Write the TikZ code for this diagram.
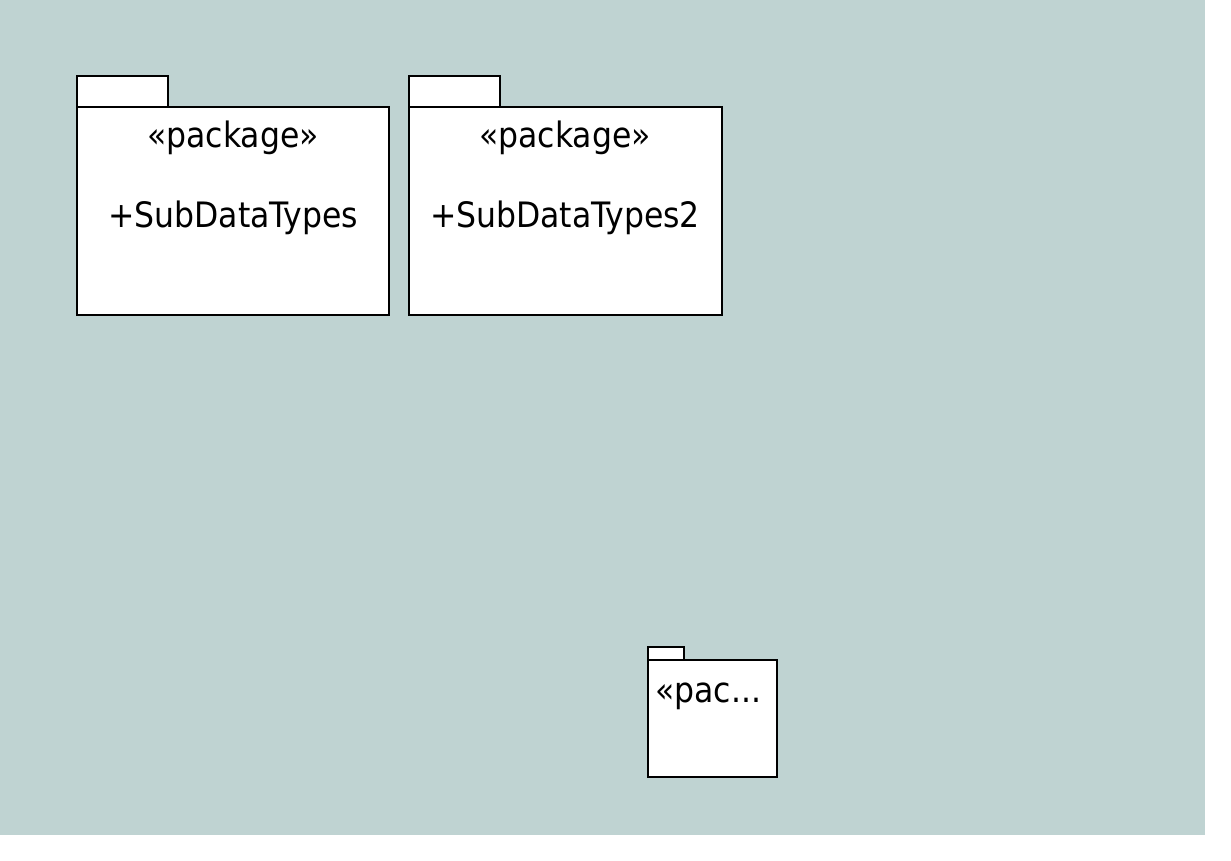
\documentclass[tikz,border=0pt]{standalone}
\usepackage{fontspec}
\setmainfont{DejaVu Sans Condensed}
\usepackage{tikz}
\usetikzlibrary{positioning}

\definecolor{canvas}{RGB}{191,211,210}

\begin{document}
\begin{tikzpicture}[x=1pt,y=-1pt,
	pkg body/.style={draw,fill=white,line width=1.3pt,inner sep=0pt,outer sep=0pt,anchor=north west},
	pkg tab/.style={draw,fill=white,line width=1.3pt,inner sep=0pt,outer sep=0pt,anchor=south west},
	pkg text/.style={inner sep=0pt,font=\fontsize{35}{38}\selectfont}]
	
	\useasboundingbox (0,0) rectangle (1231,861);
	\fill[canvas] (0,0) rectangle (1205,835);
	
	% first package
	\node[pkg body,minimum width=312pt,minimum height=208pt] (sub) at (77,107) {};
	\node[pkg tab,minimum width=91pt,minimum height=31pt] (subtab) at (sub.north west) {};
	\node[pkg text,anchor=base] (substereo) at (233,148) {«package»};
	\node[pkg text,anchor=base] (subname) at (233,227) {+SubDataTypes};
	
	% second package
	\node[pkg body,minimum width=313pt,minimum height=208pt] (subtwo) at (409,107) {};
	\node[pkg tab,minimum width=91pt,minimum height=31pt] (subtwotab) at (subtwo.north west) {};
	\node[pkg text,anchor=base] (subtwostereo) at (565,148) {«package»};
	\node[pkg text,anchor=base] (subtwoname) at (565,227) {+SubDataTypes2};
	
	% small package
	\node[pkg body,minimum width=129pt,minimum height=117pt] (small) at (648,660) {};
	\node[pkg tab,minimum width=36pt,minimum height=13pt] (smalltab) at (small.north west) {};
	\node[pkg text,anchor=base west] (smallstereo) at (655,702) {«pac...};
\end{tikzpicture}
\end{document}
